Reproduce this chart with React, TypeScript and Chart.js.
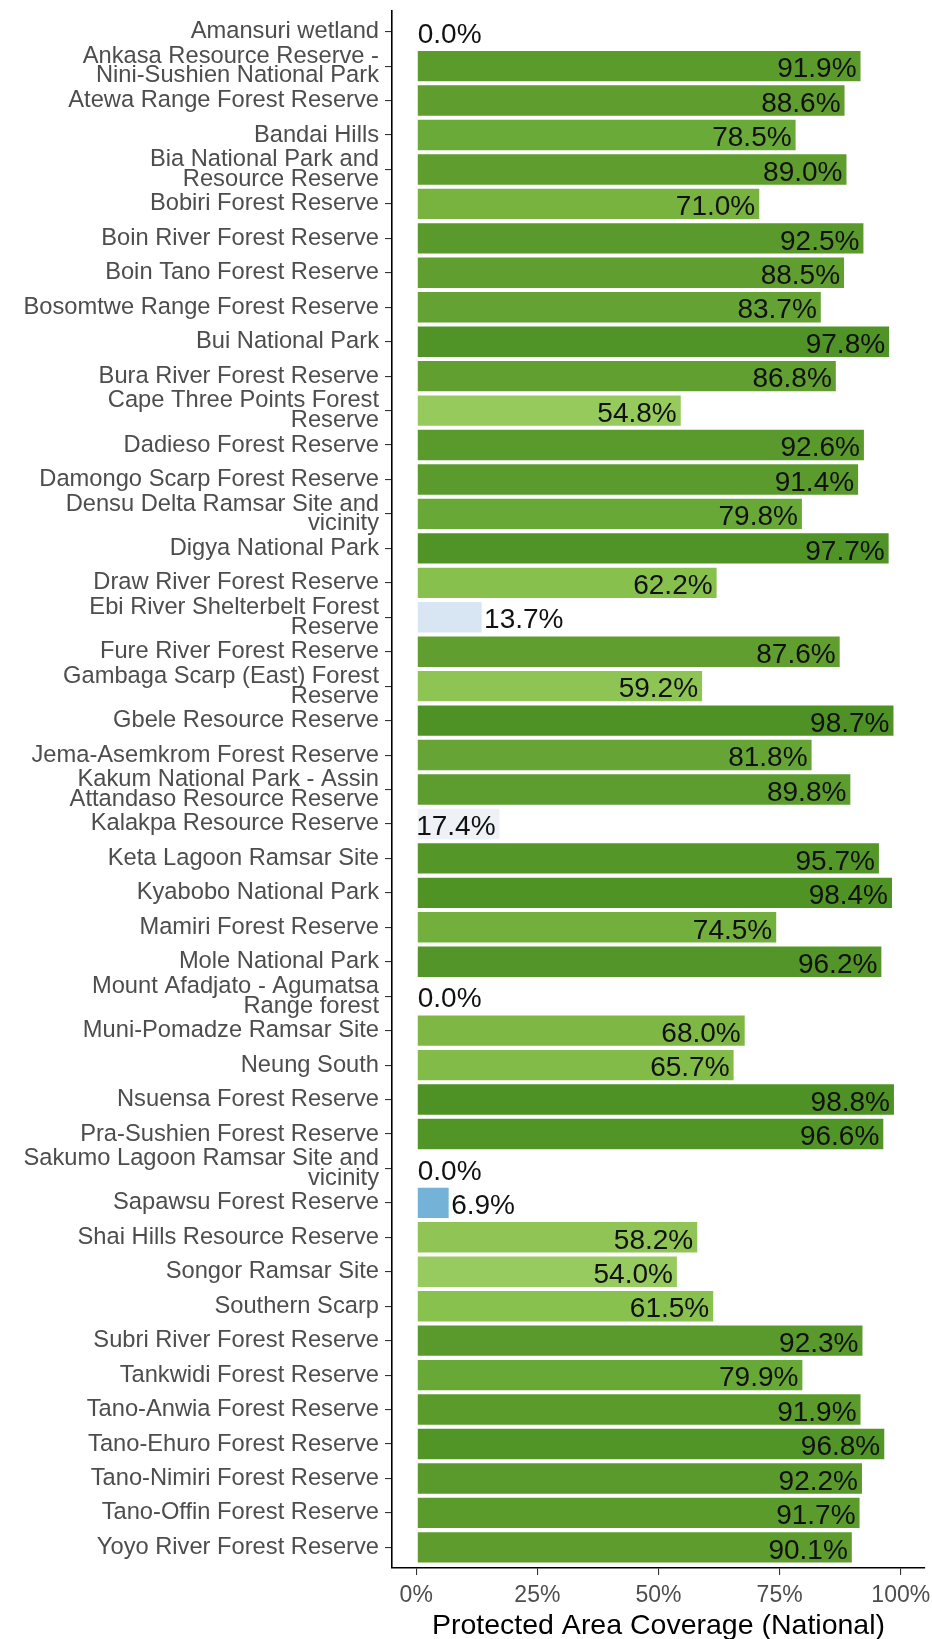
import React, { useEffect, useRef } from "react";
import { Chart, registerables } from "chart.js";

Chart.register(...registerables);

const areas: string[] = [
  "Amansuri wetland",
  "Ankasa Resource Reserve -\nNini-Sushien National Park",
  "Atewa Range Forest Reserve",
  "Bandai Hills",
  "Bia National Park and\nResource Reserve",
  "Bobiri Forest Reserve",
  "Boin River Forest Reserve",
  "Boin Tano Forest Reserve",
  "Bosomtwe Range Forest Reserve",
  "Bui National Park",
  "Bura River Forest Reserve",
  "Cape Three Points Forest\nReserve",
  "Dadieso Forest Reserve",
  "Damongo Scarp Forest Reserve",
  "Densu Delta Ramsar Site and\nvicinity",
  "Digya National Park",
  "Draw River Forest Reserve",
  "Ebi River Shelterbelt Forest\nReserve",
  "Fure River Forest Reserve",
  "Gambaga Scarp (East) Forest\nReserve",
  "Gbele Resource Reserve",
  "Jema-Asemkrom Forest Reserve",
  "Kakum National Park - Assin\nAttandaso Resource Reserve",
  "Kalakpa Resource Reserve",
  "Keta Lagoon Ramsar Site",
  "Kyabobo National Park",
  "Mamiri Forest Reserve",
  "Mole National Park",
  "Mount Afadjato - Agumatsa\nRange forest",
  "Muni-Pomadze Ramsar Site",
  "Neung South",
  "Nsuensa Forest Reserve",
  "Pra-Sushien Forest Reserve",
  "Sakumo Lagoon Ramsar Site and\nvicinity",
  "Sapawsu Forest Reserve",
  "Shai Hills Resource Reserve",
  "Songor Ramsar Site",
  "Southern Scarp",
  "Subri River Forest Reserve",
  "Tankwidi Forest Reserve",
  "Tano-Anwia Forest Reserve",
  "Tano-Ehuro Forest Reserve",
  "Tano-Nimiri Forest Reserve",
  "Tano-Offin Forest Reserve",
  "Yoyo River Forest Reserve",
];

const coverage: number[] = [
  0.0, 91.9, 88.6, 78.5, 89.0, 71.0, 92.5, 88.5, 83.7, 97.8,
  86.8, 54.8, 92.6, 91.4, 79.8, 97.7, 62.2, 13.7, 87.6, 59.2,
  98.7, 81.8, 89.8, 17.4, 95.7, 98.4, 74.5, 96.2, 0.0, 68.0,
  65.7, 98.8, 96.6, 0.0, 6.9, 58.2, 54.0, 61.5, 92.3, 79.9,
  91.9, 96.8, 92.2, 91.7, 90.1,
];

const xTickValues: number[] = [0, 25, 50, 75, 100];
const axisTitle = "Protected Area Coverage (National)";

// continuous fill scale (value -> colour)
const colorStops: [number, string][] = [
  [0, "#3f8cc8"],
  [6.9, "#74b2d8"],
  [13.7, "#d8e6f3"],
  [17.4, "#eef2f6"],
  [22, "#f5f7f2"],
  [54, "#98cb5f"],
  [62, "#88c04e"],
  [71, "#79b33f"],
  [79, "#69a937"],
  [84, "#64a233"],
  [89, "#5e9d2e"],
  [92.5, "#5a9a2c"],
  [98.8, "#4e9225"],
];

function hexToRgb(h: string): number[] {
  const n = parseInt(h.slice(1), 16);
  return [(n >> 16) & 255, (n >> 8) & 255, n & 255];
}

function colorFor(v: number): string {
  if (v <= colorStops[0][0]) return colorStops[0][1];
  for (let i = 1; i < colorStops.length; i++) {
    const [v1, c1] = colorStops[i];
    const [v0, c0] = colorStops[i - 1];
    if (v <= v1) {
      const t = (v - v0) / (v1 - v0);
      const a = hexToRgb(c0);
      const b = hexToRgb(c1);
      const r = a.map((x, k) => Math.round(x + (b[k] - x) * t));
      return `rgb(${r[0]},${r[1]},${r[2]})`;
    }
  }
  return colorStops[colorStops.length - 1][1];
}

const FONT = "'Liberation Sans', Arial, Helvetica, sans-serif";

const valueLabels = {
  id: "valueLabels",
  afterDatasetsDraw(chart: any) {
    const ctx = chart.ctx;
    const meta = chart.getDatasetMeta(0);
    const xs = chart.scales.x;
    ctx.save();
    ctx.font = `28px ${FONT}`;
    ctx.fillStyle = "#111";
    ctx.textBaseline = "middle";
    meta.data.forEach((el: any, i: number) => {
      const v = coverage[i];
      const end = xs.getPixelForValue(v);
      const text = v.toFixed(1) + "%";
      const y = el.y + 3.5;
      if (v < 15) {
        ctx.textAlign = "left";
        ctx.fillText(text, end + 1.5, y);
      } else {
        ctx.textAlign = "right";
        ctx.fillText(text, end - 5, y);
      }
    });
    ctx.restore();
  },
};

export default function App() {
  const ref = useRef<HTMLCanvasElement | null>(null);

  useEffect(() => {
    document.body.style.margin = "0";
    const canvas = ref.current;
    if (!canvas) return;
    const chart = new Chart(canvas, {
      type: "bar",
      data: {
        datasets: [
          {
            data: coverage.map((v, i) => ({ x: v, y: i })),
            backgroundColor: coverage.map(colorFor),
            borderColor: "rgba(255,255,255,0.5)",
            borderWidth: ((c: any) => (coverage[c.dataIndex] > 0 ? 1 : 0)) as any,
            borderSkipped: false,
            barPercentage: 0.94,
            categoryPercentage: 1,
          } as any,
        ],
      },
      options: {
        indexAxis: "y",
        animation: false,
        responsive: false,
        devicePixelRatio: 1,
        layout: { padding: { top: 11, right: 7, left: 0, bottom: 0 } },
        plugins: {
          legend: { display: false },
          tooltip: { enabled: false },
          title: { display: false },
        },
        scales: {
          x: {
            type: "linear",
            position: "bottom",
            min: -5,
            max: 105,
            offset: false,
            afterBuildTicks: (s: any) => {
              s.ticks = xTickValues.map((v) => ({ value: v }));
            },
            afterFit: (s: any) => {
              s.height = 71;
              s.paddingLeft = 0;
              s.paddingRight = 0;
            },
            ticks: {
              callback: (v: any) => `${v}%`,
              color: "#4d4d4d",
              font: { family: FONT, size: 23, lineHeight: 1 },
              padding: 9,
              autoSkip: false,
              maxRotation: 0,
            },
            grid: {
              display: true,
              offset: false,
              drawOnChartArea: false,
              drawTicks: true,
              tickLength: 7,
              color: "#333",
              lineWidth: 1.1,
            },
            border: { display: true, color: "#000", width: 1.6 },
            title: {
              display: true,
              text: axisTitle,
              color: "#000",
              font: { family: FONT, size: 28.5, lineHeight: 0.86 },
              padding: { top: 0, bottom: 0.5 },
            },
          },
          y: {
            type: "linear",
            reverse: true,
            offset: false,
            min: -0.6,
            max: 44.6,
            afterBuildTicks: (s: any) => {
              s.ticks = areas.map((_, i) => ({ value: i }));
            },
            afterFit: (s: any) => {
              s.width = 392;
              s.paddingTop = 0;
              s.paddingBottom = 0;
            },
            ticks: {
              callback: (v: any) => {
                const l = areas[Math.round(v)];
                return l ? l.split("\n") : "";
              },
              color: "#4d4d4d",
              font: { family: FONT, size: 23.7, lineHeight: 0.83 },
              padding: 6,
              autoSkip: false,
            },
            grid: {
              display: true,
              offset: false,
              drawOnChartArea: false,
              drawTicks: true,
              tickLength: 7,
              color: "#333",
              lineWidth: 1.1,
            },
            border: { display: true, color: "#000", width: 1.6 },
          },
        },
      } as any,
      plugins: [valueLabels],
    });
    return () => chart.destroy();
  }, []);

  return (
    <div style={{ width: 932, height: 1639, background: "#fff" }}>
      <canvas ref={ref} width={932} height={1639} style={{ display: "block" }} />
    </div>
  );
}
